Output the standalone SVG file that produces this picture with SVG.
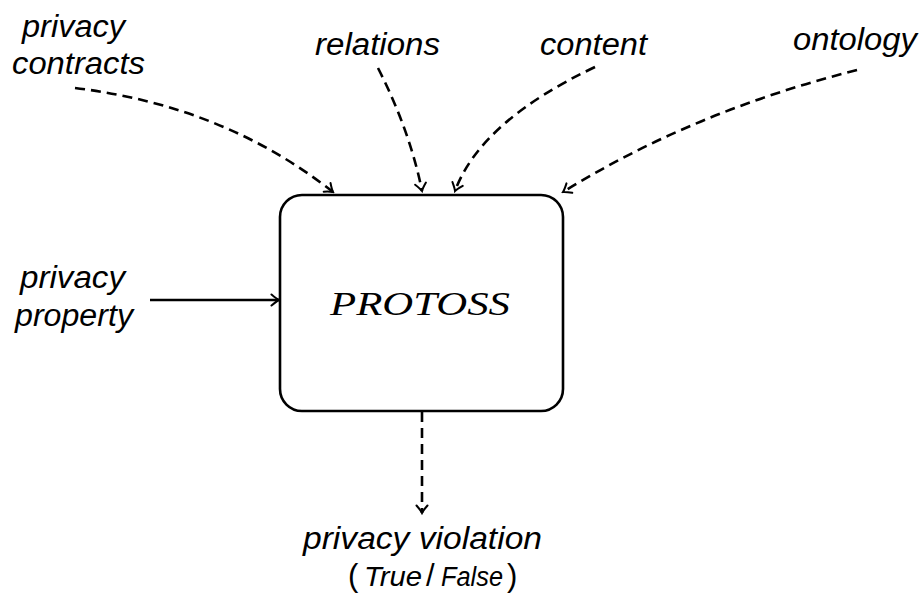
<svg xmlns="http://www.w3.org/2000/svg" width="922" height="600" viewBox="0 0 922 600">
<defs>
<marker id="arr" viewBox="-10 -8 12 16" markerWidth="12" markerHeight="16" refX="0" refY="0" orient="auto" markerUnits="userSpaceOnUse">
<path d="M-7.5,-5.5 Q-2.5,-1.2 0,0 Q-2.5,1.2 -7.5,5.5" fill="none" stroke="#000" stroke-width="2" stroke-linecap="round"/>
</marker>
<style>
.lbl{font-family:"Liberation Sans",Arial,sans-serif;font-style:italic;font-size:31px;fill:#000}
.up{font-style:normal}
.tf{font-size:27px}
.dash{fill:none;stroke:#000;stroke-width:2.6;stroke-dasharray:10 6;marker-end:url(#arr)}
.solid{fill:none;stroke:#000;stroke-width:2.4;marker-end:url(#arr)}
</style>
</defs>
<rect width="922" height="600" fill="#fff"/>
<g id="connectors">
<path class="dash" d="M75,88 Q224,106 333,192"/>
<path class="dash" d="M378,68 Q410,131 422,191"/>
<path class="dash" d="M595,67 Q481,121 455,191"/>
<path class="dash" d="M857,70 Q694,111 563,192"/>
<path class="solid" d="M150,300 L279,300"/>
<path class="dash" d="M422,412 L422,513"/>
</g>
<g id="protoss">
<rect x="280" y="195" width="283" height="216" rx="22" ry="22" fill="#fff" stroke="#000" stroke-width="2.6"/>
<text x="420" y="315" text-anchor="middle" textLength="180" lengthAdjust="spacingAndGlyphs" style="font-family:'Liberation Serif',serif;font-style:italic;font-size:33px">PROTOSS</text>
</g>
<g id="privacy-contracts">
<text class="lbl" x="22" y="37" textLength="103" lengthAdjust="spacingAndGlyphs">privacy</text>
<text class="lbl" x="12" y="74" textLength="133" lengthAdjust="spacingAndGlyphs">contracts</text>
</g>
<g id="relations">
<text class="lbl" x="315" y="55" textLength="125" lengthAdjust="spacingAndGlyphs">relations</text>
</g>
<g id="content">
<text class="lbl" x="540" y="55" textLength="107" lengthAdjust="spacingAndGlyphs">content</text>
</g>
<g id="ontology">
<text class="lbl" x="793" y="50" textLength="124" lengthAdjust="spacingAndGlyphs">ontology</text>
</g>
<g id="privacy-property">
<text class="lbl" x="20" y="288" textLength="105" lengthAdjust="spacingAndGlyphs">privacy</text>
<text class="lbl" x="15" y="326" textLength="118" lengthAdjust="spacingAndGlyphs">property</text>
</g>
<g id="privacy-violation">
<text class="lbl" x="303" y="549" textLength="239" lengthAdjust="spacingAndGlyphs">privacy  violation</text>
<text class="lbl up" x="348" y="586">(</text>
<text class="lbl tf" x="364" y="586" textLength="58" lengthAdjust="spacingAndGlyphs">True</text>
<text class="lbl up" x="426" y="586">/</text>
<text class="lbl tf" x="441" y="586" textLength="62" lengthAdjust="spacingAndGlyphs">False</text>
<text class="lbl up" x="507" y="586">)</text>
</g>
</svg>
